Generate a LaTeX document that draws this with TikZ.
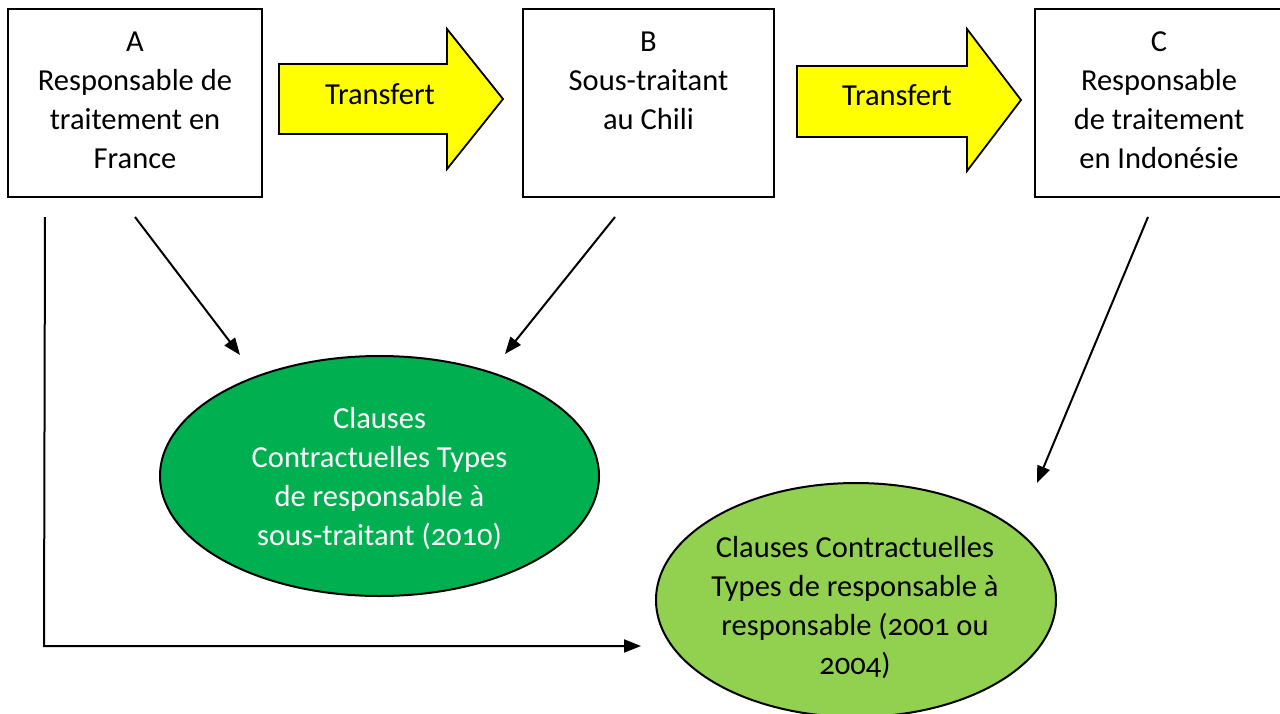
\documentclass[tikz,border=0pt]{standalone}
\usepackage{fontspec}
\setmainfont{Carlito}[Numbers=OldStyle]
\usetikzlibrary{arrows.meta,shapes.geometric}
\definecolor{darkgreen}{HTML}{00B050}
\definecolor{lightgreen}{HTML}{92D050}
\definecolor{yel}{HTML}{FFFF00}
\tikzset{
  box/.style={draw=black, line width=2pt, fill=white, inner sep=0pt, minimum width=#1, minimum height=188pt},
  ell/.style={ellipse, draw=black, line width=2pt, inner sep=0pt, minimum width=2*#1, align=center},
  txt/.style={font=\fontsize{30.5}{39}\selectfont, align=center, inner sep=0pt},
  conn/.style={line width=2pt, -{Triangle[length=17pt,width=13pt]}},
  blockarrow/.style={draw=black, line width=1.8pt, fill=yel}
}
\newcommand{\topbox}[2]{\parbox[c][188pt][t]{#1}{\centering\fontsize{30.5}{39}\selectfont\vspace*{23pt}#2}}
\begin{document}
\begin{tikzpicture}[x=1pt,y=-1pt]
\useasboundingbox (0,0) rectangle (1280,713);
% boxes
\node[box=254pt] (A) at (135,103) {\topbox{250pt}{A\\Responsable de\\traitement en\\France}};
\node[box=251pt] (B) at (648.5,103) {\topbox{247pt}{B\\Sous-traitant\\au Chili}};
\node[box=248pt] (C) at (1159,103) {\topbox{244pt}{C\\Responsable\\de traitement\\en Indonésie}};
% block arrows
\draw[blockarrow] (279,64) -- (447,64) -- (447,29) -- (503,99) -- (447,169) -- (447,134) -- (279,134) -- cycle;
\node[txt] (T1) at (380,94) {Transfert};
\draw[blockarrow] (797,66) -- (967,66) -- (967,29) -- (1021,100) -- (967,171) -- (967,137) -- (797,137) -- cycle;
\node[txt] (T2) at (897,95) {Transfert};
% ellipses
\node[ell=219.5pt, minimum height=240pt, fill=darkgreen, text=white] (E1) at (379.5,476) {};
\node[txt, text=white] (E1t) at (379.5,479) {Clauses\\Contractuelles Types\\de responsable à\\sous-traitant (2010)};
\node[ell=200pt, minimum height=234pt, fill=lightgreen] (E2) at (856,600) {};
\node[txt] (E2t) at (855,608) {Clauses Contractuelles\\Types de responsable à\\responsable (2001 ou\\2004)};
% connectors
\coordinate (a1) at (135,217);
\coordinate (a1e) at (240,355);
\coordinate (b1) at (615,217);
\coordinate (b1e) at (505,354);
\coordinate (c1) at (1148,217);
\coordinate (c1e) at (1037,483);
\coordinate (l0) at (45,217);
\coordinate (l1) at (44,646);
\coordinate (l2) at (641,646);
\draw[conn] (a1) -- (a1e);
\draw[conn] (b1) -- (b1e);
\draw[conn] (c1) -- (c1e);
\draw[conn] (l0) -- (l1) -- (l2);
\end{tikzpicture}
\end{document}
